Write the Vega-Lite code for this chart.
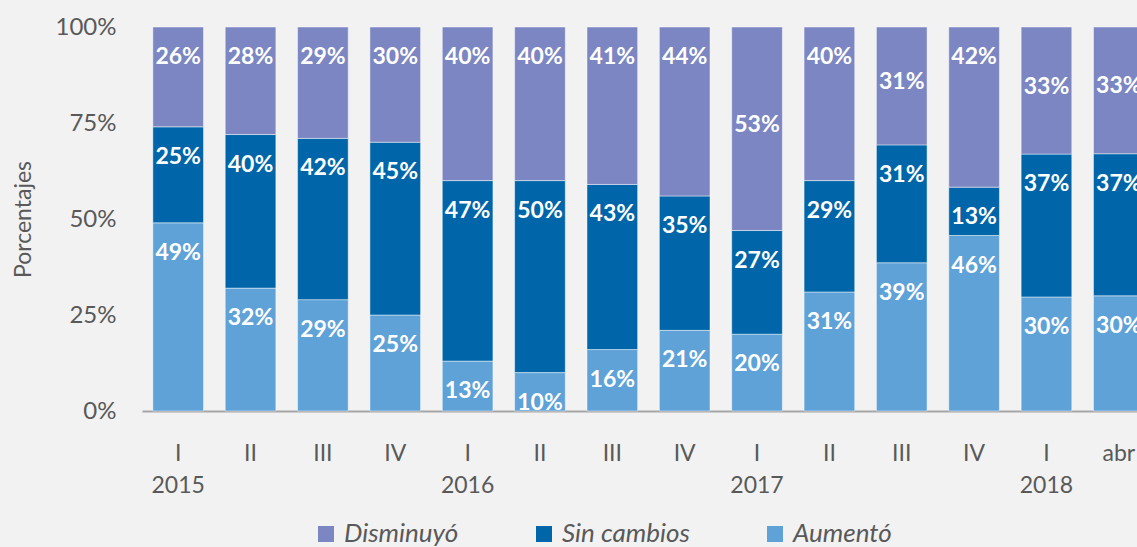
{
  "$schema": "https://vega.github.io/schema/vega-lite/v6.json",
  "width": 995,
  "height": 384,
  "autosize": {"type": "none"},
  "padding": {"left": 142, "top": 27, "right": 0, "bottom": 136},
  "background": "#f2f2f2",
  "config": {
    "view": {"stroke": null},
    "font": "Lato"
  },
  "data": {
    "values": [
      {"per": "2015 I", "cat": "Aumentó", "v": 0.49},
      {"per": "2015 I", "cat": "Sin cambios", "v": 0.25},
      {"per": "2015 I", "cat": "Disminuyó", "v": 0.26},
      {"per": "2015 II", "cat": "Aumentó", "v": 0.32},
      {"per": "2015 II", "cat": "Sin cambios", "v": 0.40},
      {"per": "2015 II", "cat": "Disminuyó", "v": 0.28},
      {"per": "2015 III", "cat": "Aumentó", "v": 0.29},
      {"per": "2015 III", "cat": "Sin cambios", "v": 0.42},
      {"per": "2015 III", "cat": "Disminuyó", "v": 0.29},
      {"per": "2015 IV", "cat": "Aumentó", "v": 0.25},
      {"per": "2015 IV", "cat": "Sin cambios", "v": 0.45},
      {"per": "2015 IV", "cat": "Disminuyó", "v": 0.30},
      {"per": "2016 I", "cat": "Aumentó", "v": 0.13},
      {"per": "2016 I", "cat": "Sin cambios", "v": 0.47},
      {"per": "2016 I", "cat": "Disminuyó", "v": 0.40},
      {"per": "2016 II", "cat": "Aumentó", "v": 0.10},
      {"per": "2016 II", "cat": "Sin cambios", "v": 0.50},
      {"per": "2016 II", "cat": "Disminuyó", "v": 0.40},
      {"per": "2016 III", "cat": "Aumentó", "v": 0.16},
      {"per": "2016 III", "cat": "Sin cambios", "v": 0.43},
      {"per": "2016 III", "cat": "Disminuyó", "v": 0.41},
      {"per": "2016 IV", "cat": "Aumentó", "v": 0.21},
      {"per": "2016 IV", "cat": "Sin cambios", "v": 0.35},
      {"per": "2016 IV", "cat": "Disminuyó", "v": 0.44},
      {"per": "2017 I", "cat": "Aumentó", "v": 0.20},
      {"per": "2017 I", "cat": "Sin cambios", "v": 0.27},
      {"per": "2017 I", "cat": "Disminuyó", "v": 0.53},
      {"per": "2017 II", "cat": "Aumentó", "v": 0.31},
      {"per": "2017 II", "cat": "Sin cambios", "v": 0.29},
      {"per": "2017 II", "cat": "Disminuyó", "v": 0.40},
      {"per": "2017 III", "cat": "Aumentó", "v": 0.386},
      {"per": "2017 III", "cat": "Sin cambios", "v": 0.307},
      {"per": "2017 III", "cat": "Disminuyó", "v": 0.307},
      {"per": "2017 IV", "cat": "Aumentó", "v": 0.457},
      {"per": "2017 IV", "cat": "Sin cambios", "v": 0.126},
      {"per": "2017 IV", "cat": "Disminuyó", "v": 0.417},
      {"per": "2018 I", "cat": "Aumentó", "v": 0.297},
      {"per": "2018 I", "cat": "Sin cambios", "v": 0.372},
      {"per": "2018 I", "cat": "Disminuyó", "v": 0.331},
      {"per": "2018 abr", "cat": "Aumentó", "v": 0.30},
      {"per": "2018 abr", "cat": "Sin cambios", "v": 0.37},
      {"per": "2018 abr", "cat": "Disminuyó", "v": 0.33}
    ]
  },
  "transform": [
    {"calculate": "indexof(['Aumentó','Sin cambios','Disminuyó'], datum.cat)", "as": "ord"},
    {"stack": "v", "groupby": ["per"], "sort": [{"field": "ord", "order": "ascending"}], "as": ["y0", "y1"]},
    {"calculate": "(datum.y0 + datum.y1) / 2", "as": "mid"}
  ],
  "encoding": {
    "x": {
      "field": "per",
      "type": "nominal",
      "sort": null,
      "scale": {"range": [0, 1013], "paddingInner": 0.3, "paddingOuter": 0.15},
      "axis": {
        "title": null,
        "labelAngle": 0,
        "labelExpr": "split(datum.value,' ')[1] == 'I' ? ['I', split(datum.value,' ')[0]] : split(datum.value,' ')[1]",
        "labelFont": "Lato",
        "labelFontSize": 23,
        "labelColor": "#595959",
        "labelLineHeight": 32,
        "labelBaseline": "top",
        "labelPadding": 31,
        "ticks": false,
        "domainColor": "#a6a6a6",
        "domainWidth": 2,
        "grid": false
      }
    }
  },
  "layer": [
    {
      "mark": {"type": "bar", "stroke": "#ffffff", "strokeWidth": 1, "strokeOpacity": 0.45},
      "encoding": {
        "y": {
          "field": "y0",
          "type": "quantitative",
          "scale": {"domain": [0, 1]},
          "axis": {
            "title": "Porcentajes",
            "titleFont": "Lato",
            "titleFontSize": 23,
            "titleFontWeight": "normal",
            "titleColor": "#595959",
            "titlePadding": 20,
            "values": [0, 0.25, 0.5, 0.75, 1],
            "format": ".0%",
            "labelFont": "Lato",
            "labelFontSize": 24,
            "labelColor": "#595959",
            "labelPadding": 26,
            "ticks": false,
            "domain": false,
            "grid": false
          }
        },
        "y2": {"field": "y1"},
        "color": {
          "field": "cat",
          "type": "nominal",
          "scale": {
            "domain": ["Disminuyó", "Sin cambios", "Aumentó"],
            "range": ["#7b86c2", "#0066a9", "#5fa2d8"]
          },
          "legend": {
            "title": null,
            "orient": "none",
            "direction": "horizontal",
            "legendX": 171,
            "legendY": 494,
            "symbolType": "square",
            "symbolSize": 256,
            "symbolStrokeWidth": 0,
            "symbolOpacity": 1,
            "labelFont": "Lato",
            "labelFontSize": 26,
            "labelFontStyle": "italic",
            "labelColor": "#595959",
            "labelOffset": 5,
            "columnPadding": 72,
            "padding": 0
          }
        }
      }
    },
    {
      "transform": [
        {"filter": "!(datum.cat == 'Disminuyó' && indexof(['2017 I','2017 III','2018 I','2018 abr'], datum.per) >= 0)"}
      ],
      "mark": {"type": "text", "color": "#ffffff", "font": "Lato", "fontWeight": "bold", "fontSize": 23, "baseline": "middle", "dy": 30},
      "encoding": {
        "y": {"field": "y1", "type": "quantitative"},
        "text": {"field": "v", "type": "quantitative", "format": ".0%"}
      }
    },
    {
      "transform": [
        {"filter": "datum.cat == 'Disminuyó' && indexof(['2017 I','2017 III','2018 I','2018 abr'], datum.per) >= 0"}
      ],
      "mark": {"type": "text", "color": "#ffffff", "font": "Lato", "fontWeight": "bold", "fontSize": 23, "baseline": "middle", "dy": -4},
      "encoding": {
        "y": {"field": "mid", "type": "quantitative"},
        "text": {"field": "v", "type": "quantitative", "format": ".0%"}
      }
    }
  ]
}
